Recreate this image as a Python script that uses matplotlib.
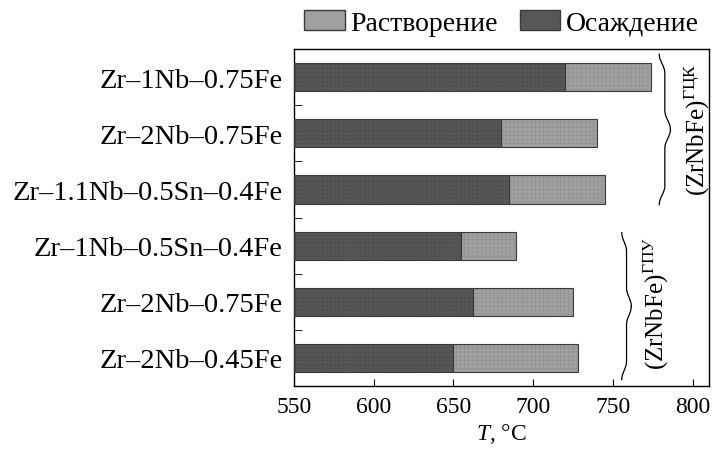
import matplotlib
matplotlib.use("Agg")
import matplotlib.pyplot as plt
import numpy as np
from matplotlib.patches import Patch

plt.rcParams["font.family"] = ["Liberation Serif", "DejaVu Serif"]
plt.rcParams["mathtext.fontset"] = "custom"
plt.rcParams["mathtext.rm"] = "Liberation Serif"
plt.rcParams["mathtext.it"] = "Liberation Serif:italic"
plt.rcParams["hatch.linewidth"] = 0.3

alloys = [
    "Zr–1Nb–0.75Fe",
    "Zr–2Nb–0.75Fe",
    "Zr–1.1Nb–0.5Sn–0.4Fe",
    "Zr–1Nb–0.5Sn–0.4Fe",
    "Zr–2Nb–0.75Fe",
    "Zr–2Nb–0.45Fe",
]
precip_end = [720, 680, 685, 655, 662, 650]
dissol_end = [774, 740, 745, 689, 725, 728]
x_start = 550

dark = "#575757"
dark_hatch = "#4a4a4a"
light = "#a0a0a0"
light_hatch = "#8c8c8c"
outline = "#3a3a3a"

fig = plt.figure(figsize=(7.13, 4.52), dpi=100)
ax = fig.add_axes([0.412, 0.144, 0.582, 0.745])

y = np.arange(len(alloys))
prec = np.array(precip_end) - x_start
diss = np.array(dissol_end) - np.array(precip_end)
# textured fill first, then a clean outline on top
ax.barh(y, prec, left=x_start, height=0.5, color=dark, edgecolor=dark_hatch,
        linewidth=0, hatch="++++", zorder=2)
ax.barh(y, diss, left=precip_end, height=0.5, color=light, edgecolor=light_hatch,
        linewidth=0, hatch="++++", zorder=2)
ax.barh(y, prec, left=x_start, height=0.5, facecolor="none", edgecolor=outline,
        linewidth=0.8, zorder=3)
ax.barh(y, diss, left=precip_end, height=0.5, facecolor="none", edgecolor=outline,
        linewidth=0.8, zorder=3)

ax.set_xlim(550, 810)
ax.set_ylim(len(alloys) - 0.5, -0.5)
ax.set_xticks([550, 600, 650, 700, 750, 800])
ax.tick_params(axis="x", direction="in", length=5, labelsize=17, pad=7)
ax.set_yticks(y)
ax.set_yticklabels(alloys)
ax.tick_params(axis="y", length=0, labelsize=20.5, pad=8)
ax.set_yticks(np.arange(0.5, len(alloys) - 1, 1.0), minor=True)
ax.tick_params(axis="y", which="minor", direction="in", length=6)
for s in ax.spines.values():
    s.set_linewidth(1.0)
ax.set_xlabel(r"$T$, °C", fontsize=17, labelpad=3)


def brace(ax, x0, x1, y0, y1):
    # right-pointing curly brace from y0 to y1, base at x0, tip at x1
    ym = (y0 + y1) / 2
    w = x1 - x0

    def half(ya, yb):
        s = np.linspace(0, 1, 100)
        xs = x0 + w * 0.5 * (1 - np.cos(np.pi * np.clip(s * 4, 0, 1))) * 0.5 \
            + w * 0.5 * (1 - np.cos(np.pi * np.clip((s - 0.75) * 4, 0, 1))) * 0.5
        ys = ya + (yb - ya) * s
        return xs, ys

    xa, ya_ = half(y0, ym)
    xb, yb_ = half(y1, ym)
    ax.plot(xa, ya_, color="black", lw=0.9, clip_on=False)
    ax.plot(xb, yb_, color="black", lw=0.9, clip_on=False)


brace(ax, 779, 786, -0.41, 2.27)
brace(ax, 755.5, 761.5, 2.77, 5.39)

ax.text(803, 0.92, r"(ZrNbFe)$^{\mathrm{ГЦК}}$", rotation=90, fontsize=18,
        ha="center", va="center")
ax.text(777, 4.02, r"(ZrNbFe)$^{\mathrm{ГПУ}}$", rotation=90, fontsize=18,
        ha="center", va="center")

handles = [Patch(facecolor=light, edgecolor=outline, label="Растворение"),
           Patch(facecolor=dark, edgecolor=outline, label="Осаждение")]
fig.legend(handles=handles, loc="center right", bbox_to_anchor=(0.98, 0.947), ncol=2,
           frameon=False, fontsize=20, handlelength=1.45, handleheight=0.75,
           handletextpad=0.2, columnspacing=0.8, borderaxespad=0, borderpad=0)

fig.savefig("out.png", dpi=100)
